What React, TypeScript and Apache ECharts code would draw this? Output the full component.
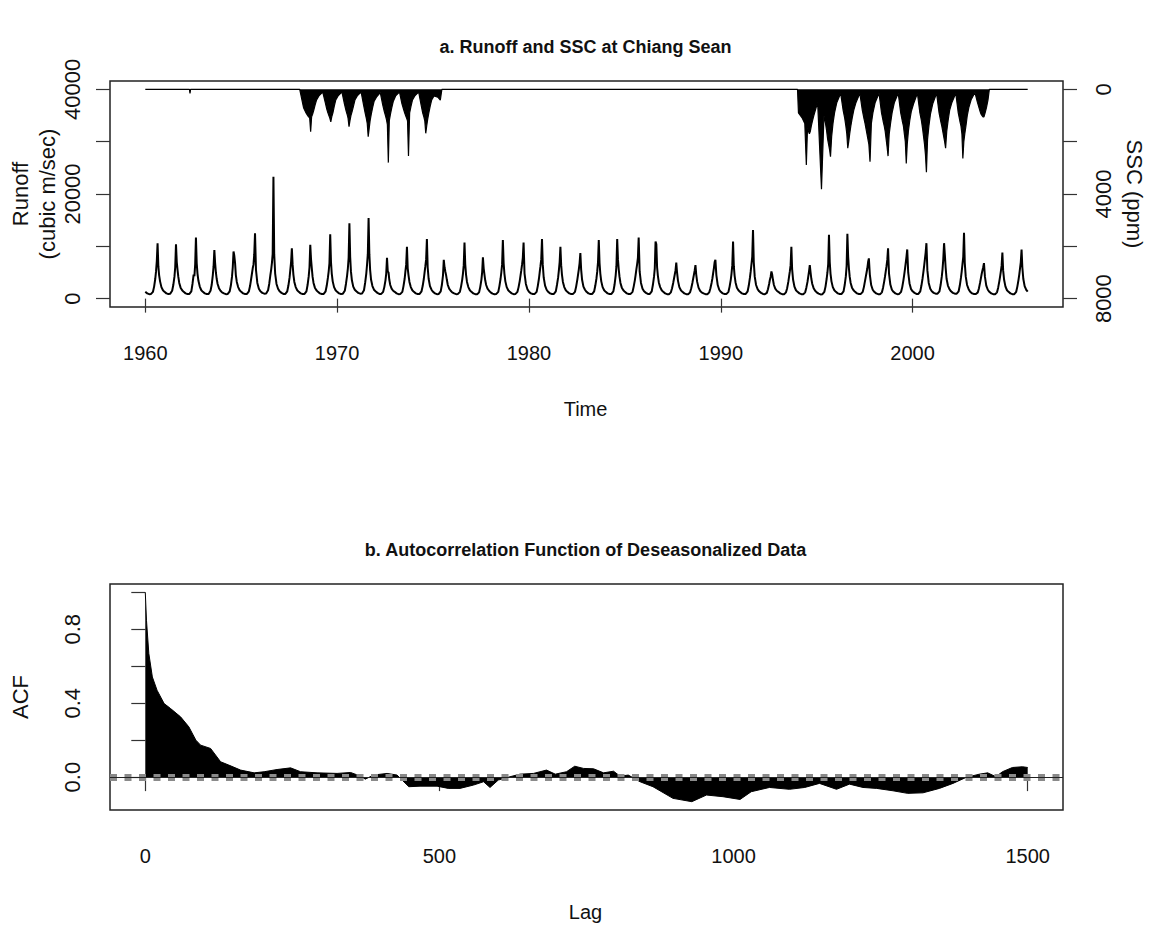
import React, { useEffect, useRef } from "react";
import * as echarts from "echarts";

const FONT = '"Liberation Sans", Arial, Helvetica, sans-serif';

// ---------- Panel a: runoff (thousand m3/s) sampled at fixed fractions of each year ----------
const RUNOFF_FRACTIONS = [0.0, 0.1, 0.2, 0.3, 0.4, 0.46, 0.52, 0.56, 0.6, 0.64, 0.68, 0.72, 0.77, 0.84, 0.92];
const runoff1960s = [
  [1.3, 1.0, 0.85, 0.9, 1.3, 2.3, 3.8, 5.2, 7.2, 10.6, 6.2, 4.5, 3.3, 2.2, 1.6],
  [1.3, 1.0, 0.9, 0.95, 1.5, 2.6, 4.2, 6.0, 10.4, 7.0, 5.5, 4.2, 3.0, 2.1, 1.6],
  [1.3, 1.0, 0.9, 0.9, 1.4, 2.8, 4.6, 4.3, 6.5, 11.7, 6.8, 4.8, 3.4, 2.3, 1.6],
  [1.3, 1.0, 0.9, 0.9, 1.5, 2.6, 4.5, 6.2, 9.3, 6.8, 5.0, 3.8, 2.8, 2.0, 1.5],
  [1.2, 1.0, 0.85, 0.9, 1.4, 2.5, 4.2, 6.0, 9.0, 8.2, 6.8, 4.5, 3.2, 2.2, 1.6],
  [1.3, 1.0, 0.9, 0.9, 1.4, 2.4, 3.8, 4.8, 5.8, 6.5, 8.5, 12.5, 5.5, 3.0, 1.9],
  [1.4, 1.1, 0.95, 1.0, 1.6, 2.8, 4.5, 5.5, 6.8, 8.5, 23.3, 8.5, 4.8, 2.8, 1.9],
  [1.4, 1.1, 0.9, 0.9, 1.4, 2.5, 4.0, 5.5, 7.0, 9.6, 6.5, 4.6, 3.2, 2.2, 1.6],
  [1.3, 1.0, 0.9, 0.9, 1.4, 2.6, 4.3, 6.0, 10.3, 7.5, 5.8, 4.2, 3.0, 2.1, 1.6],
  [1.3, 1.0, 0.9, 0.9, 1.4, 2.5, 4.0, 5.2, 6.8, 12.3, 7.0, 4.8, 3.3, 2.2, 1.6],
];
const runoff1970s = [
  [1.3, 1.0, 0.9, 0.95, 1.5, 2.8, 4.4, 5.8, 7.8, 14.4, 8.0, 5.2, 3.5, 2.3, 1.7],
  [1.4, 1.1, 0.95, 1.0, 1.6, 3.0, 4.8, 6.5, 8.5, 15.4, 8.5, 5.5, 3.6, 2.4, 1.7],
  [1.4, 1.1, 0.9, 0.9, 1.3, 2.2, 3.5, 4.8, 7.8, 5.2, 5.0, 3.6, 2.6, 1.9, 1.5],
  [1.3, 1.0, 0.85, 0.9, 1.3, 2.4, 3.8, 5.2, 6.5, 9.9, 5.8, 4.5, 3.2, 2.2, 1.6],
  [1.3, 1.0, 0.9, 0.9, 1.4, 2.4, 3.8, 5.0, 6.2, 7.5, 11.4, 6.0, 3.8, 2.4, 1.7],
  [1.3, 1.0, 0.85, 0.9, 1.4, 2.6, 4.5, 7.4, 6.0, 5.2, 4.5, 3.6, 2.6, 1.9, 1.5],
  [1.2, 1.0, 0.85, 0.9, 1.3, 2.3, 3.6, 4.8, 6.4, 10.7, 6.5, 4.6, 3.2, 2.2, 1.6],
  [1.3, 1.0, 0.85, 0.85, 1.2, 2.2, 3.6, 5.0, 7.9, 5.8, 4.6, 3.5, 2.6, 1.9, 1.5],
  [1.2, 0.95, 0.85, 0.9, 1.3, 2.4, 3.8, 5.0, 6.5, 11.2, 6.8, 4.8, 3.3, 2.2, 1.6],
  [1.3, 1.0, 0.85, 0.9, 1.3, 2.2, 3.4, 4.4, 5.4, 6.5, 7.8, 10.7, 4.8, 2.8, 1.8],
];
const runoff1980s = [
  [1.3, 1.0, 0.9, 0.9, 1.3, 2.4, 3.8, 5.0, 6.2, 7.5, 11.4, 6.5, 4.0, 2.5, 1.7],
  [1.3, 1.0, 0.9, 0.9, 1.4, 2.6, 4.0, 5.4, 7.0, 9.9, 6.4, 4.6, 3.2, 2.2, 1.6],
  [1.3, 1.0, 0.9, 0.9, 1.3, 2.3, 3.6, 4.6, 5.6, 6.8, 8.7, 5.6, 3.6, 2.3, 1.7],
  [1.3, 1.0, 0.9, 0.9, 1.4, 2.5, 3.9, 5.2, 7.0, 11.2, 6.8, 4.8, 3.3, 2.2, 1.6],
  [1.3, 1.0, 0.9, 0.9, 1.4, 2.6, 4.4, 6.2, 11.4, 7.5, 5.6, 4.2, 3.0, 2.1, 1.6],
  [1.3, 1.0, 0.9, 0.9, 1.3, 2.3, 3.5, 4.5, 5.6, 6.6, 7.8, 11.7, 5.2, 3.0, 1.9],
  [1.4, 1.1, 0.9, 0.9, 1.4, 2.6, 4.2, 5.8, 10.9, 10.4, 6.0, 4.4, 3.1, 2.2, 1.6],
  [1.3, 1.0, 0.85, 0.85, 1.2, 2.0, 3.0, 3.8, 4.6, 5.4, 6.9, 5.0, 3.4, 2.2, 1.6],
  [1.3, 1.0, 0.85, 0.85, 1.2, 2.0, 3.0, 3.8, 4.6, 5.4, 6.4, 4.6, 3.2, 2.1, 1.5],
  [1.2, 1.0, 0.85, 0.85, 1.2, 2.0, 3.0, 3.8, 4.8, 5.8, 7.0, 7.4, 4.5, 2.6, 1.7],
];
const runoff1990s = [
  [1.3, 1.0, 0.9, 0.9, 1.3, 2.3, 3.6, 4.8, 6.4, 10.9, 6.2, 4.4, 3.1, 2.1, 1.6],
  [1.3, 1.0, 0.9, 0.9, 1.4, 2.5, 4.0, 5.2, 6.6, 8.0, 13.1, 7.0, 4.2, 2.6, 1.8],
  [1.4, 1.1, 0.9, 0.85, 1.1, 1.8, 2.8, 3.6, 4.2, 5.2, 4.6, 3.6, 2.6, 1.9, 1.5],
  [1.3, 1.0, 0.85, 0.85, 1.2, 2.0, 3.2, 4.2, 5.2, 6.4, 9.9, 5.6, 3.6, 2.3, 1.6],
  [1.3, 1.0, 0.85, 0.85, 1.2, 2.1, 3.2, 4.2, 5.2, 6.4, 5.0, 3.8, 2.8, 2.0, 1.5],
  [1.2, 0.95, 0.8, 0.85, 1.3, 2.3, 3.8, 5.0, 6.6, 12.2, 7.0, 4.8, 3.3, 2.2, 1.6],
  [1.3, 1.0, 0.9, 0.9, 1.4, 2.6, 4.3, 6.2, 12.4, 8.0, 5.8, 4.2, 3.0, 2.1, 1.6],
  [1.3, 1.0, 0.9, 0.9, 1.3, 2.2, 3.4, 4.2, 5.0, 5.8, 7.0, 7.7, 4.6, 2.6, 1.7],
  [1.3, 1.0, 0.85, 0.85, 1.2, 2.1, 3.3, 4.2, 5.2, 6.2, 7.4, 9.6, 4.8, 2.7, 1.7],
  [1.3, 1.0, 0.85, 0.9, 1.3, 2.2, 3.5, 4.5, 5.6, 6.8, 8.0, 9.4, 5.0, 2.9, 1.8],
];
const runoff2000s = [
  [1.4, 1.1, 0.9, 0.9, 1.4, 2.5, 3.9, 5.0, 6.2, 7.5, 8.8, 10.6, 5.4, 3.0, 1.9],
  [1.4, 1.1, 0.95, 0.95, 1.4, 2.6, 4.2, 5.6, 7.6, 10.6, 8.4, 6.0, 3.8, 2.5, 1.8],
  [1.4, 1.1, 0.95, 0.95, 1.4, 2.5, 4.0, 5.2, 6.6, 8.0, 12.6, 6.8, 4.2, 2.6, 1.8],
  [1.3, 1.0, 0.9, 0.9, 1.2, 2.0, 3.1, 3.9, 4.7, 5.4, 6.0, 6.8, 4.2, 2.5, 1.7],
  [1.3, 1.0, 0.85, 0.85, 1.2, 2.1, 3.3, 4.2, 5.2, 6.3, 8.8, 5.4, 3.6, 2.3, 1.6],
  [1.3, 1.0, 0.85, 0.85, 1.3, 2.3, 3.6, 4.6, 5.8, 7.0, 9.4, 6.0, 3.8, 2.4, 1.7],
];
const RUNOFF_DECADES: [number, number[][]][] = [
  [1960, runoff1960s], [1970, runoff1970s], [1980, runoff1980s], [1990, runoff1990s], [2000, runoff2000s],
];
const RUNOFF_END_TIME = 2006.0;
const RUNOFF_END_VALUE = 1.35;

// ---------- Panel a: SSC (ppm), plotted downward from the top on an inverted axis ----------
const SSC_FRACTIONS = [0.05, 0.25, 0.38, 0.46, 0.52, 0.57, 0.62, 0.67, 0.72, 0.78, 0.85, 0.93];
const SSC_BLIP_TIME = 1962.33;
const SSC_BLIP_VALUE = 150;
const SSC_FIRST_START = 1968;
const sscFirstPeriod = [
  [0, 700, 900, 1000, 1050, 1100, 1620, 1050, 950, 800, 600, 400],
  [250, 100, 500, 750, 900, 1000, 1100, 1240, 1050, 900, 650, 400],
  [250, 100, 550, 800, 950, 1100, 1430, 1200, 1000, 850, 650, 400],
  [250, 100, 600, 900, 1100, 1300, 1810, 1500, 1200, 950, 700, 450],
  [300, 120, 600, 850, 1000, 1150, 1350, 2800, 1200, 950, 700, 450],
  [250, 100, 550, 750, 900, 1000, 1100, 1200, 2550, 900, 650, 400],
  [250, 100, 600, 900, 1050, 1200, 1680, 1400, 1150, 900, 650, 400],
  [250, 300, 410, 0],
];
const SSC_SECOND_START = 1994;
const sscSecondPeriod = [
  [900, 1100, 1300, 2890, 1500, 1600, 1700, 1600, 1400, 1200, 1000, 800],
  [500, 3820, 1000, 1300, 1600, 1900, 2100, 2300, 2570, 1800, 1300, 900],
  [500, 150, 800, 1100, 1400, 1700, 2250, 2000, 1700, 1400, 1100, 800],
  [500, 150, 800, 1100, 1300, 1500, 1700, 1900, 2100, 2770, 1300, 900],
  [500, 150, 900, 1200, 1400, 1600, 1900, 2200, 2550, 1700, 1300, 900],
  [500, 150, 900, 1200, 1400, 1700, 2000, 2830, 2100, 1600, 1200, 850],
  [550, 150, 900, 1200, 1500, 1800, 2100, 2500, 3170, 1900, 1400, 950],
  [550, 150, 900, 1200, 1400, 1600, 1800, 2000, 2250, 1600, 1200, 800],
  [500, 150, 900, 1200, 1400, 1700, 2640, 2000, 1700, 1400, 1000, 700],
  [400, 120, 500, 700, 850, 950, 1000, 1050, 1050, 900, 700, 400],
];
const SSC_SECOND_END = 2004.0;
const SERIES_START = 1960;
const SERIES_END = 2006;

const YEAR_TICKS = [1960, 1970, 1980, 1990, 2000];
const RUNOFF_TICKS = [0, 10000, 20000, 30000, 40000];
const RUNOFF_LABELS = [0, 20000, 40000];
const SSC_TICKS = [0, 2000, 4000, 6000, 8000];
const SSC_LABELS = [0, 4000, 8000];

// ---------- Panel b: ACF ----------
const ACF_LAGS = [
  0, 2, 6, 12, 20, 32, 43, 60, 74, 86, 94, 111, 128, 142, 162, 185, 202, 224, 247, 264, 292, 326, 349,
  366, 374, 388, 411, 428, 448, 467, 496, 515, 535, 558, 575, 586, 600, 620, 637, 660, 682, 697, 716,
  730, 745, 762, 779, 796, 807, 821, 841, 863, 897, 929, 954, 982, 1011, 1030, 1061, 1095, 1121, 1146,
  1175, 1197, 1220, 1243, 1271, 1296, 1322, 1350, 1373, 1395, 1418, 1432, 1446, 1457, 1474, 1491, 1500,
];
const ACF_VALUES = [
  1.0, 0.849, 0.669, 0.542, 0.47, 0.398, 0.371, 0.326, 0.272, 0.2, 0.173, 0.155, 0.083, 0.065, 0.038,
  0.023, 0.029, 0.041, 0.05, 0.029, 0.023, 0.02, 0.025, 0.005, -0.011, 0.011, 0.02, 0.011, -0.052,
  -0.049, -0.049, -0.061, -0.061, -0.043, -0.025, -0.056, -0.016, 0.002, 0.016, 0.02, 0.038, 0.016,
  0.029, 0.059, 0.047, 0.045, 0.023, 0.032, 0.005, 0.011, -0.025, -0.052, -0.115, -0.133, -0.097,
  -0.106, -0.121, -0.079, -0.056, -0.066, -0.056, -0.034, -0.066, -0.038, -0.056, -0.061, -0.074,
  -0.088, -0.085, -0.061, -0.034, -0.002, 0.016, 0.023, 0.002, 0.029, 0.052, 0.056, 0.052,
];
const ACF_CI = 0.015;
const LAG_TICKS = [0, 500, 1000, 1500];
const ACF_TICKS = [0, 0.2, 0.4, 0.6, 0.8, 1.0];
const ACF_LABELS = [0, 0.4, 0.8];

function buildRunoff(): number[][] {
  const pts: number[][] = [];
  RUNOFF_DECADES.forEach(([start, rows]) => {
    rows.forEach((row, i) => {
      row.forEach((v, j) => pts.push([start + i + RUNOFF_FRACTIONS[j], v * 1000]));
    });
  });
  pts.push([RUNOFF_END_TIME, RUNOFF_END_VALUE * 1000]);
  return pts;
}

function buildSsc(): number[][] {
  const pts: number[][] = [];
  pts.push([SERIES_START, 0]);
  pts.push([SSC_BLIP_TIME - 0.03, 0]);
  pts.push([SSC_BLIP_TIME, SSC_BLIP_VALUE]);
  pts.push([SSC_BLIP_TIME + 0.03, 0]);
  sscFirstPeriod.forEach((row, i) => {
    row.forEach((v, j) => pts.push([SSC_FIRST_START + i + SSC_FRACTIONS[j], v]));
  });
  pts.push([SSC_SECOND_START, 0]);
  sscSecondPeriod.forEach((row, i) => {
    row.forEach((v, j) => pts.push([SSC_SECOND_START + i + SSC_FRACTIONS[j], v]));
  });
  pts.push([SSC_SECOND_END, 0]);
  pts.push([SERIES_END, 0]);
  return pts;
}

export default function App() {
  const ref = useRef<HTMLDivElement>(null);

  useEffect(() => {
    if (!ref.current) return;
    const chart = echarts.init(ref.current, undefined, { renderer: "svg" });
    const tickStyle = { color: "#333", width: 1.2 };
    const labelBase = { fontFamily: FONT, color: "#111" };

    const option: any = {
      animation: false,
      backgroundColor: "#ffffff",
      textStyle: { fontFamily: FONT },
      grid: [
        { left: 110, top: 81, width: 953, height: 226, show: true, borderColor: "#222", borderWidth: 1.5, backgroundColor: "transparent" },
        { left: 110, top: 584, width: 953, height: 226, show: true, borderColor: "#222", borderWidth: 1.5, backgroundColor: "transparent" },
      ],
      xAxis: [
        {
          type: "value", gridIndex: 0, min: 1958.16, max: 2007.84,
          axisLine: { show: false }, splitLine: { show: false },
          axisTick: { show: true, length: 14, customValues: YEAR_TICKS, lineStyle: tickStyle },
          axisLabel: { ...labelBase, customValues: YEAR_TICKS, margin: 36, fontSize: 20, formatter: (v: number) => String(v) },
        },
        {
          type: "value", gridIndex: 1, min: -60, max: 1560,
          axisLine: { show: false }, splitLine: { show: false },
          axisTick: { show: true, length: 14, customValues: LAG_TICKS, lineStyle: tickStyle },
          axisLabel: { ...labelBase, customValues: LAG_TICKS, margin: 36, fontSize: 20, formatter: (v: number) => String(v) },
        },
      ],
      yAxis: [
        {
          type: "value", gridIndex: 0, min: -1600, max: 41600,
          axisLine: { show: false }, splitLine: { show: false },
          axisTick: { show: true, length: 14, customValues: RUNOFF_TICKS, lineStyle: tickStyle },
          axisLabel: { ...labelBase, customValues: RUNOFF_LABELS, rotate: 90, margin: 27, fontSize: 22, formatter: (v: number) => String(v) },
        },
        {
          type: "value", gridIndex: 0, position: "right", inverse: true, min: -320, max: 8320,
          axisLine: { show: false }, splitLine: { show: false },
          axisTick: { show: true, length: 14, customValues: SSC_TICKS, lineStyle: tickStyle },
          axisLabel: { ...labelBase, customValues: SSC_LABELS, rotate: 90, margin: 29, fontSize: 22, formatter: (v: number) => String(v) },
        },
        {
          type: "value", gridIndex: 1, min: -0.178, max: 1.045,
          axisLine: { show: false }, splitLine: { show: false },
          axisTick: { show: true, length: 14, customValues: ACF_TICKS, lineStyle: tickStyle },
          axisLabel: { ...labelBase, customValues: ACF_LABELS, rotate: 90, margin: 27, fontSize: 22, formatter: (v: number) => v.toFixed(1) },
        },
      ],
      series: [
        {
          name: "SSC", type: "line", xAxisIndex: 0, yAxisIndex: 1,
          data: buildSsc(), showSymbol: false, symbol: "none",
          lineStyle: { color: "#000", width: 1.2 },
          areaStyle: { color: "#000", opacity: 1 },
          z: 2,
        },
        {
          name: "Runoff", type: "line", xAxisIndex: 0, yAxisIndex: 0,
          data: buildRunoff(), showSymbol: false, symbol: "none",
          lineStyle: { color: "#000", width: 2 },
          z: 3,
        },
        {
          name: "ACF", type: "line", xAxisIndex: 1, yAxisIndex: 2,
          data: ACF_LAGS.map((l, i) => [l, ACF_VALUES[i]]), showSymbol: false, symbol: "none",
          lineStyle: { color: "#000", width: 1 },
          areaStyle: { color: "#000", opacity: 1 },
          z: 2,
          markLine: {
            silent: true, symbol: ["none", "none"], label: { show: false },
            data: [
              { yAxis: 0, lineStyle: { color: "#222", width: 1, type: "solid" } },
              { yAxis: ACF_CI, lineStyle: { color: "#8a8a8a", width: 3, type: [7, 7.5] } },
              { yAxis: -ACF_CI, lineStyle: { color: "#8a8a8a", width: 3, type: [7, 7.5] } },
            ],
          },
        },
      ],
      graphic: [
        { type: "text", x: 585.5, y: 47, style: { text: "a. Runoff and SSC at Chiang Sean", fontFamily: FONT, fontSize: 18, fontWeight: "bold", fill: "#111", align: "center", verticalAlign: "middle" } },
        { type: "text", x: 585.5, y: 409, style: { text: "Time", fontFamily: FONT, fontSize: 20, fill: "#111", align: "center", verticalAlign: "middle" } },
        { type: "text", x: 585.5, y: 550, style: { text: "b. Autocorrelation Function of Deseasonalized Data", fontFamily: FONT, fontSize: 18, fontWeight: "bold", fill: "#111", align: "center", verticalAlign: "middle" } },
        { type: "text", x: 585.5, y: 912, style: { text: "Lag", fontFamily: FONT, fontSize: 20, fill: "#111", align: "center", verticalAlign: "middle" } },
        { type: "text", x: 20, y: 194, rotation: Math.PI / 2, style: { text: "Runoff", fontFamily: FONT, fontSize: 22, fill: "#111", align: "center", verticalAlign: "middle" } },
        { type: "text", x: 47, y: 194, rotation: Math.PI / 2, style: { text: "(cubic m/sec)", fontFamily: FONT, fontSize: 22, fill: "#111", align: "center", verticalAlign: "middle" } },
        { type: "text", x: 1134, y: 194, rotation: -Math.PI / 2, style: { text: "SSC (ppm)", fontFamily: FONT, fontSize: 22, fill: "#111", align: "center", verticalAlign: "middle" } },
        { type: "text", x: 20, y: 697, rotation: Math.PI / 2, style: { text: "ACF", fontFamily: FONT, fontSize: 22, fill: "#111", align: "center", verticalAlign: "middle" } },
      ],
    };
    chart.setOption(option);
    return () => chart.dispose();
  }, []);

  return <div ref={ref} style={{ position: "fixed", left: 0, top: 0, width: 1151, height: 928, background: "#fff" }} />;
}
